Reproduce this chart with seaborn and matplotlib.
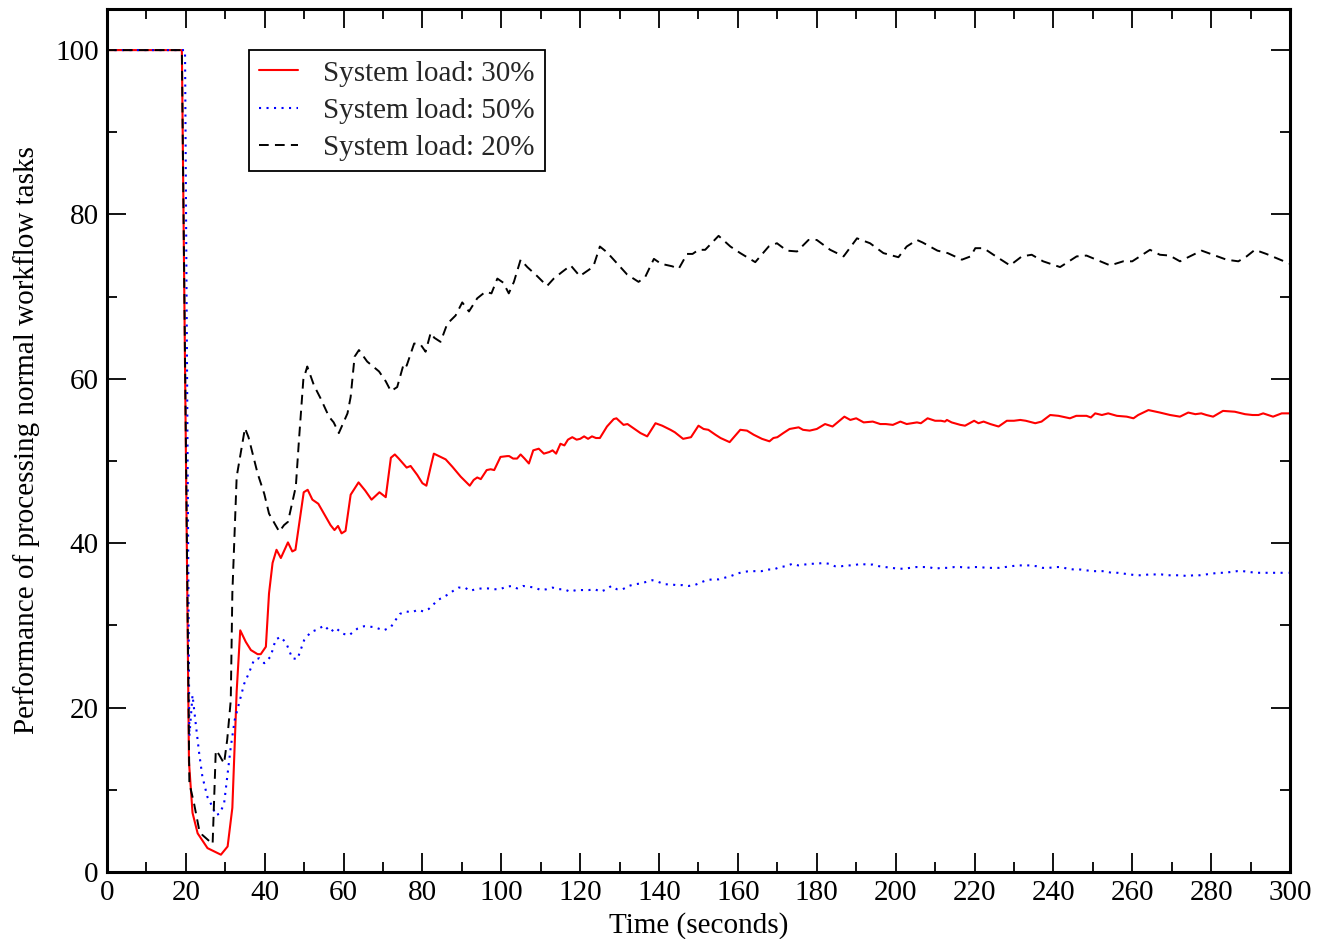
import numpy as np
import pandas as pd
import matplotlib
matplotlib.use("Agg")
import matplotlib.pyplot as plt
import seaborn as sns
from matplotlib.ticker import MultipleLocator

# ---- data ----
t_30 = [0, 19.0, 20.8, 21.7, 23.0, 25.5, 28.9, 30.6, 31.8, 32.9, 33.8, 35.2, 36.5, 38.2, 39.0, 40.3,
        41.1, 42.0, 43.0, 44.1, 45.9, 47.0, 47.8, 49.9, 50.9, 52.1, 53.6, 56.7, 57.7, 58.6, 59.5, 60.5,
        61.8, 63.8, 65.5, 67.1, 69.1, 70.7, 72.0, 73.0, 74.0, 76.0, 77.0, 78.7, 80.0, 81.0, 82.1, 82.9,
        84.2, 85.9, 87.6, 89.7, 92.0, 93.0, 93.9, 94.8, 96.3, 97.3, 98.2, 99.8, 101.5, 102.0, 103.0,
        104.0, 104.9, 105.9, 107.0, 108.1, 109.5, 110.8, 112.2, 113.0, 113.9, 115.0, 116.0, 116.9,
        118.0, 119.1, 120.0, 121.0, 122.0, 123.0, 124.0, 125.0, 126.8, 128.5, 129.2, 131.0, 132.0,
        133.5, 135.3, 137.0, 139.1, 140.8, 142.9, 144.0, 146.1, 148.1, 150.0, 151.3, 152.5, 154.3,
        155.6, 157.9, 160.6, 162.3, 164.0, 166.1, 168.0, 169.0, 170.0, 171.5, 173.1, 175.4, 176.5,
        178.2, 180.0, 182.1, 184.0, 185.5, 187.0, 188.5, 190.0, 191.9, 194.2, 196.1, 197.5, 199.3,
        201.2, 202.8, 205.4, 206.4, 208.1, 210.0, 211.5, 212.5, 213.0, 214.2, 216.4, 217.6, 219.9,
        221.0, 222.3, 224.0, 226.1, 228.2, 230.0, 231.6, 233.0, 235.4, 237.0, 239.2, 241.3, 244.2,
        245.8, 248.4, 249.5, 250.6, 252.3, 253.9, 256.1, 258.6, 260.3, 261.5, 264.1, 267.0, 269.6,
        272.1, 274.2, 276.0, 277.5, 278.8, 280.5, 283.0, 286.0, 288.6, 290.5, 292.0, 293.2, 295.7,
        297.9, 300.0]
perf_30 = [100, 100, 13.4, 7.2, 4.7, 2.9, 2.1, 3.1, 7.8, 22.0, 29.4, 28.0, 27.0, 26.5, 26.5, 27.4,
           33.9, 37.6, 39.2, 38.2, 40.1, 39.0, 39.2, 46.2, 46.5, 45.3, 44.8, 42.2, 41.6, 42.1, 41.2, 41.5,
           45.9, 47.4, 46.4, 45.3, 46.2, 45.6, 50.4, 50.8, 50.3, 49.2, 49.4, 48.3, 47.3, 47.0, 49.3, 50.9,
           50.6, 50.2, 49.3, 48.1, 47.0, 47.7, 48.0, 47.8, 48.9, 49.0, 48.9, 50.5, 50.6, 50.6, 50.3,
           50.3, 50.8, 50.3, 49.7, 51.3, 51.5, 50.9, 51.1, 51.3, 50.9, 52.1, 51.9, 52.6, 52.9, 52.6,
           52.7, 53.0, 52.7, 53.0, 52.8, 52.8, 54.2, 55.1, 55.2, 54.4, 54.5, 54.0, 53.4, 53.0, 54.6,
           54.3, 53.8, 53.5, 52.7, 52.9, 54.3, 53.9, 53.8, 53.2, 52.8, 52.3, 53.8, 53.7, 53.2, 52.7,
           52.4, 52.8, 52.9, 53.4, 53.9, 54.1, 53.8, 53.7, 53.9, 54.5, 54.2, 54.8, 55.4, 55.0, 55.2,
           54.7, 54.8, 54.5, 54.5, 54.4, 54.8, 54.5, 54.7, 54.6, 55.2, 54.9, 54.9, 54.8, 55.0, 54.7,
           54.4, 54.3, 54.9, 54.6, 54.8, 54.5, 54.2, 54.9, 54.9, 55.0, 54.9, 54.6, 54.8, 55.6, 55.5,
           55.2, 55.5, 55.5, 55.3, 55.8, 55.6, 55.8, 55.5, 55.4, 55.2, 55.6, 56.2, 55.9, 55.6, 55.4,
           55.9, 55.7, 55.8, 55.6, 55.4, 56.1, 56.0, 55.7, 55.6, 55.6, 55.8, 55.4, 55.8, 55.8]

t_50 = [0, 19.8, 20.9, 21.7, 22.5, 23.4, 24.2, 25.5, 26.8, 27.6, 28.6, 29.7, 30.5, 31.4, 32.4, 33.5,
        34.8, 36.0, 37.3, 38.6, 39.9, 41.5, 42.8, 44.1, 45.5, 47.0, 48.3, 50.0, 51.7, 53.4, 55.1, 56.7,
        58.0, 59.7, 61.4, 63.5, 65.2, 67.7, 70.2, 72.0, 73.4, 74.3, 75.8, 77.3, 78.9, 80.2, 81.6, 82.7,
        83.9, 85.2, 86.6, 87.8, 89.2, 90.8, 92.0, 93.5, 95.0, 96.6, 98.2, 99.7, 101.2, 102.7, 104.0,
        105.5, 107.0, 108.5, 110.0, 111.5, 113.0, 114.5, 116.0, 117.4, 119.0, 120.6, 122.2, 123.7,
        125.2, 126.7, 127.9, 129.3, 130.8, 132.3, 133.8, 135.3, 136.8, 138.3, 139.8, 141.4, 142.9,
        144.4, 146.0, 147.5, 149.0, 150.5, 152.0, 153.5, 155.1, 156.6, 158.2, 159.8, 161.3, 162.9,
        164.5, 166.0, 167.6, 169.1, 170.6, 172.2, 173.8, 175.3, 176.9, 178.4, 180.0, 181.6, 183.1,
        184.6, 186.2, 187.8, 189.4, 191.0, 192.6, 194.2, 195.8, 197.4, 199.0, 200.6, 202.1, 203.6,
        205.2, 206.8, 208.4, 210.0, 211.6, 213.2, 214.9, 216.4, 218.0, 219.6, 221.4, 223.0, 224.6,
        226.2, 227.8, 229.4, 230.9, 232.5, 234.1, 235.7, 237.3, 238.9, 240.4, 241.9, 243.6, 245.2,
        246.8, 248.3, 249.9, 251.5, 253.1, 254.7, 256.3, 257.8, 259.4, 261.0, 262.6, 264.2, 265.8,
        267.4, 269.0, 270.6, 272.4, 273.9, 275.5, 277.1, 278.7, 280.3, 281.8, 283.4, 285.0, 286.6,
        288.1, 289.7, 291.3, 292.9, 294.5, 296.1, 297.7, 299.6]
perf_50 = [100, 100, 16.5, 21.5, 18.1, 14.4, 11.6, 9.1, 7.9, 6.9, 7.1, 8.3, 11.6, 15.2, 18.5, 20.5,
           22.9, 24.2, 25.8, 26.0, 25.4, 26.2, 28.3, 28.6, 27.8, 26.0, 25.9, 28.2, 29.2, 29.5, 30.0, 29.2,
           29.7, 29.0, 28.8, 29.6, 29.9, 29.8, 29.4, 29.8, 30.8, 31.4, 31.7, 31.6, 31.9, 31.7, 32.0, 32.5,
           33.1, 33.4, 33.8, 34.2, 34.6, 34.6, 34.2, 34.4, 34.5, 34.5, 34.4, 34.4, 34.7, 34.8, 34.5,
           34.8, 34.7, 34.6, 34.3, 34.4, 34.6, 34.4, 34.4, 34.1, 34.3, 34.3, 34.3, 34.4, 34.1, 34.4,
           34.8, 34.4, 34.4, 34.8, 35.0, 35.1, 35.3, 35.5, 35.3, 35.0, 35.0, 34.9, 34.9, 34.8, 34.9,
           35.2, 35.5, 35.6, 35.6, 35.8, 36.0, 36.3, 36.5, 36.6, 36.6, 36.6, 36.8, 36.8, 37.1, 37.2,
           37.5, 37.3, 37.4, 37.5, 37.5, 37.6, 37.5, 37.2, 37.2, 37.3, 37.3, 37.5, 37.4, 37.4, 37.2,
           37.1, 37.0, 36.9, 36.9, 37.0, 37.1, 37.1, 37.1, 36.9, 37.0, 37.0, 37.1, 37.1, 37.0, 37.1,
           37.1, 37.0, 37.0, 37.0, 37.1, 37.2, 37.3, 37.3, 37.3, 37.2, 37.0, 37.0, 37.1, 37.1, 36.9,
           36.8, 36.8, 36.7, 36.6, 36.6, 36.6, 36.4, 36.4, 36.3, 36.2, 36.1, 36.1, 36.2, 36.2, 36.2,
           36.1, 36.1, 36.1, 36.0, 36.1, 36.1, 36.2, 36.3, 36.4, 36.4, 36.5, 36.6, 36.6, 36.5, 36.4,
           36.4, 36.4, 36.4, 36.4, 36.4]

t_20 = [0, 19.0, 20.9, 22.1, 23.4, 24.2, 26.8, 27.6, 28.4, 29.7, 30.5, 31.4, 31.8, 32.9, 35.0, 35.9,
        38.2, 39.9, 41.1, 43.7, 44.9, 45.9, 47.9, 48.7, 49.8, 50.8, 52.5, 54.2, 56.3, 57.5, 58.8, 61.0,
        61.8, 62.8, 63.9, 66.0, 67.5, 69.0, 70.7, 72.0, 73.6, 75.3, 76.0, 77.9, 79.5, 80.8, 82.1, 83.0,
        84.6, 86.3, 88.4, 90.1, 91.8, 93.9, 96.0, 97.5, 99.0, 100.5, 101.9, 103.2, 104.9, 106.6,
        109.1, 111.6, 113.3, 115.4, 117.6, 119.9, 122.6, 123.5, 125.0, 126.8, 128.5, 131.9, 134.8,
        136.5, 138.7, 140.5, 143.3, 145.0, 147.1, 148.5, 150.0, 151.7, 155.1, 158.1, 160.6, 164.4,
        167.8, 169.9, 172.4, 175.0, 177.9, 180.0, 183.4, 186.8, 190.2, 193.5, 196.9, 200.7, 202.8,
        205.4, 206.8, 210.6, 213.2, 216.8, 219.0, 220.2, 222.3, 224.8, 229.0, 232.0, 234.5, 237.4,
        241.7, 245.9, 248.4, 254.4, 257.7, 260.0, 264.5, 267.0, 269.5, 272.1, 274.6, 277.6, 280.5,
        283.9, 286.9, 289.0, 291.1, 294.0, 297.5, 300.0]
perf_20 = [100, 100, 10.8, 8.3, 5.1, 4.5, 3.4, 14.8, 14.3, 13.2, 16.1, 20.9, 33.9, 48.1, 54.0, 52.9,
           48.5, 46.0, 43.6, 41.4, 42.2, 42.6, 46.9, 52.6, 59.9, 61.5, 59.2, 57.6, 55.4, 54.7, 53.4, 55.8,
           57.8, 62.7, 63.5, 62.1, 61.5, 60.9, 59.7, 58.5, 59.0, 61.9, 61.6, 64.3, 64.2, 63.3, 65.6, 65.0,
           64.5, 66.7, 67.7, 69.3, 68.2, 69.8, 70.6, 70.4, 72.2, 71.7, 70.4, 71.8, 74.5, 73.6, 72.5,
           71.3, 72.2, 73.0, 73.8, 72.5, 73.4, 73.9, 76.1, 75.4, 74.5, 72.7, 71.8, 72.4, 74.6, 74.0,
           73.7, 73.4, 75.2, 75.2, 75.7, 75.7, 77.4, 76.1, 75.3, 74.2, 76.1, 76.5, 75.6, 75.5, 76.9,
           76.9, 75.7, 74.9, 77.1, 76.5, 75.3, 74.8, 76.1, 76.9, 76.6, 75.6, 75.3, 74.5, 74.9, 75.9,
           75.9, 75.1, 73.8, 74.9, 75.1, 74.3, 73.6, 74.9, 75.0, 73.8, 74.3, 74.3, 75.7, 75.1, 75.0,
           74.3, 74.9, 75.6, 75.1, 74.5, 74.3, 74.9, 75.7, 75.2, 74.5, 74.0]

labels = ["System load: 30%", "System load: 50%", "System load: 20%"]
x_label = "Time (seconds)"
y_label = "Performance of processing normal workflow tasks"
x_ticks = list(range(0, 301, 20))
y_ticks = list(range(0, 101, 20))

# ---- style ----
sns.set_theme(style="ticks")
plt.rcParams["font.family"] = ["Liberation Serif", "DejaVu Serif"]

fig = plt.figure(figsize=(13.17, 9.39), dpi=100)
ax = fig.add_axes([0.0812, 0.0714, 0.8983, 0.9190])

sns.lineplot(x=t_30, y=perf_30, ax=ax, color="#ff0000", lw=1.5, label=labels[0],
             estimator=None, sort=False)
sns.lineplot(x=t_50, y=perf_50, ax=ax, color="#0000ff", lw=1.5, linestyle=(0, (1, 2.6)),
             label=labels[1], estimator=None, sort=False)
sns.lineplot(x=t_20, y=perf_20, ax=ax, color="#000000", lw=1.4, linestyle=(0, (5, 3.2)),
             label=labels[2], estimator=None, sort=False)

ax.set_xlim(0, 300)
ax.set_ylim(0, 105)
ax.set_xticks(x_ticks)
ax.set_yticks(y_ticks)
ax.xaxis.set_minor_locator(MultipleLocator(10))
ax.yaxis.set_minor_locator(MultipleLocator(10))
ax.tick_params(which="both", direction="in", top=True, right=True, colors="black",
               labelsize=21, pad=6)
ax.tick_params(which="major", length=14, width=1.3)
ax.tick_params(which="minor", length=7, width=1.3)
for sp in ax.spines.values():
    sp.set_linewidth(2.2)
    sp.set_color("black")

ax.set_xlabel(x_label, fontsize=21, labelpad=4, color="black")
ax.set_ylabel(y_label, fontsize=21, labelpad=11, color="black")

leg = ax.legend(loc="upper left", bbox_to_anchor=(0.12, 0.9525), borderaxespad=0,
                fontsize=21, frameon=True, fancybox=False, handlelength=1.35,
                handletextpad=0.85, labelspacing=0.37, borderpad=0.35)
leg.get_frame().set_edgecolor("black")
leg.get_frame().set_linewidth(1.3)
leg.get_frame().set_alpha(1)

fig.savefig("out.png", dpi=100)
